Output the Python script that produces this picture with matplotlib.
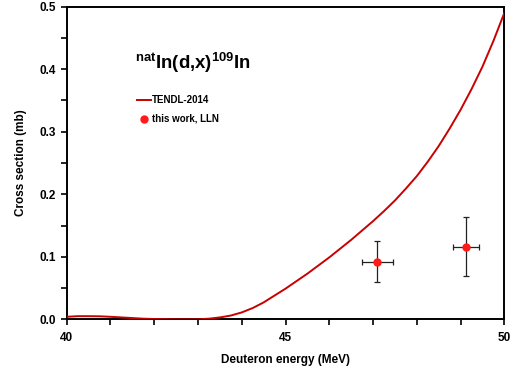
import matplotlib
matplotlib.use("Agg")
import matplotlib.pyplot as plt
from matplotlib.ticker import MultipleLocator, FormatStrFormatter

plt.rcParams["font.family"] = ["Liberation Sans", "DejaVu Sans"]
plt.rcParams["font.weight"] = "bold"
plt.rcParams["mathtext.fontset"] = "custom"
plt.rcParams["mathtext.rm"] = "Liberation Sans:bold"
plt.rcParams["mathtext.bf"] = "Liberation Sans:bold"

# TENDL-2014 curve
TENDL_E  = [40.0, 40.25, 40.5, 40.75, 41.0, 41.25, 41.5, 41.75, 42.0, 42.5,
            43.0, 43.25, 43.5, 43.75, 44.0, 44.25, 44.5, 44.75, 45.0, 45.25,
            45.5, 45.75, 46.0, 46.25, 46.5, 46.75, 47.0, 47.25, 47.5, 47.75,
            48.0, 48.25, 48.5, 48.75, 49.0, 49.25, 49.5, 49.75, 50.0]
TENDL_XS = [0.004, 0.005, 0.005, 0.0048, 0.004, 0.003, 0.002, 0.001, 0.0005, 0.0,
            0.0, 0.001, 0.003, 0.006, 0.011, 0.018, 0.027, 0.038, 0.049, 0.061,
            0.073, 0.086, 0.099, 0.113, 0.127, 0.142, 0.157, 0.173, 0.190, 0.209,
            0.229, 0.252, 0.277, 0.305, 0.335, 0.368, 0.404, 0.445, 0.490]

# this work, LLN
EXP_E    = [47.10, 49.12]
EXP_EERR = [0.35, 0.30]
EXP_XS   = [0.092, 0.116]
EXP_XERR = [0.033, 0.047]

fig = plt.figure(figsize=(5.13, 3.73), dpi=100)
ax = fig.add_axes([66.7 / 513, 1 - 319.3 / 373, (504.3 - 66.7) / 513, (319.3 - 6.7) / 373])

ax.plot(TENDL_E, TENDL_XS, color="#c80000", lw=1.4, label="TENDL-2014", zorder=3)
ax.errorbar(EXP_E, EXP_XS, xerr=EXP_EERR, yerr=EXP_XERR, fmt="none",
            ecolor="#222222", elinewidth=0.9, capsize=2, capthick=0.9, zorder=4)
ax.plot(EXP_E, EXP_XS, "o", color="#ff1a1a", ms=5, label="this work, LLN", zorder=5)

ax.set_xlim(40, 50)
ax.set_ylim(0, 0.5)
ax.xaxis.set_major_locator(MultipleLocator(5))
ax.xaxis.set_minor_locator(MultipleLocator(1))
ax.yaxis.set_major_locator(MultipleLocator(0.1))
ax.yaxis.set_minor_locator(MultipleLocator(0.05))
ax.yaxis.set_major_formatter(FormatStrFormatter("%.1f"))
ax.tick_params(which="both", direction="out", width=1.2, length=4, labelsize=8.5)
ax.tick_params(axis="x", pad=5)
for s in ax.spines.values():
    s.set_linewidth(1.4)

ax.set_xlabel("Deuteron energy (MeV)", fontsize=8.5, fontweight="bold", labelpad=7)
ax.set_ylabel("Cross section (mb)", fontsize=8.5, fontweight="bold", labelpad=9)

ax.text(0.155, 0.82, r"$^{\mathrm{nat}}$In(d,x)$^{\mathrm{109}}$In", transform=ax.transAxes,
        fontsize=13.4, fontweight="bold", va="center", ha="left")

ax.legend(loc="upper left", bbox_to_anchor=(0.14, 0.745), frameon=False,
          handlelength=1.5, handletextpad=0.1, labelspacing=0.9,
          prop={"weight": "bold", "size": 7.0})

fig.savefig("out.png", dpi=100)
